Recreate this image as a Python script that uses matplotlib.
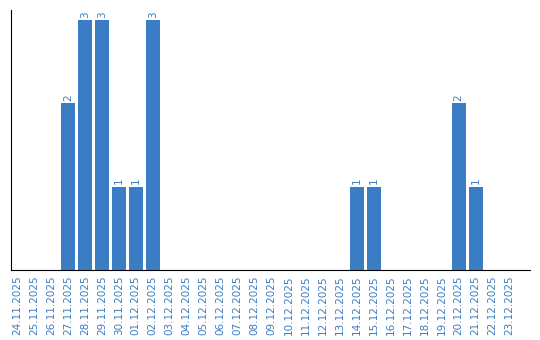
import numpy as np
import matplotlib
matplotlib.use('Agg')
from matplotlib import pyplot as plt

dates = ['24.11.2025', '25.11.2025', '26.11.2025', '27.11.2025', '28.11.2025',
         '29.11.2025', '30.11.2025', '01.12.2025', '02.12.2025', '03.12.2025',
         '04.12.2025', '05.12.2025', '06.12.2025', '07.12.2025', '08.12.2025',
         '09.12.2025', '10.12.2025', '11.12.2025', '12.12.2025', '13.12.2025',
         '14.12.2025', '15.12.2025', '16.12.2025', '17.12.2025', '18.12.2025',
         '19.12.2025', '20.12.2025', '21.12.2025', '22.12.2025', '23.12.2025']
counts = [0, 0, 0, 2, 3, 3, 1, 1, 3, 0,
          0, 0, 0, 0, 0, 0, 0, 0, 0, 0,
          1, 1, 0, 0, 0, 0, 2, 1, 0, 0]

blue = '#3b7dc4'

fig = plt.figure(figsize=(5.4, 3.4), dpi=100)
ax = fig.add_axes([11/540, 70/340, 519/540, 260/340])

x = np.arange(len(dates))
bars = ax.bar(x, counts, width=0.82, color=blue)
for xi, c in zip(x, counts):
    if c > 0:
        ax.text(xi, c + 0.03, str(c), rotation=90, ha='center', va='bottom',
                fontsize=7.5, color=blue)

ax.set_xlim(-0.35, len(dates) + 0.2)
ax.set_ylim(0, 3.12)
ax.set_xticks(x)
ax.set_xticklabels(dates, rotation=90, fontsize=7.5, color=blue)
ax.tick_params(axis='x', length=0, pad=4)
ax.set_yticks([])
ax.spines['top'].set_visible(False)
ax.spines['right'].set_visible(False)
ax.spines['left'].set_color('black')
ax.spines['bottom'].set_color('black')

fig.savefig('out.png', dpi=100)
